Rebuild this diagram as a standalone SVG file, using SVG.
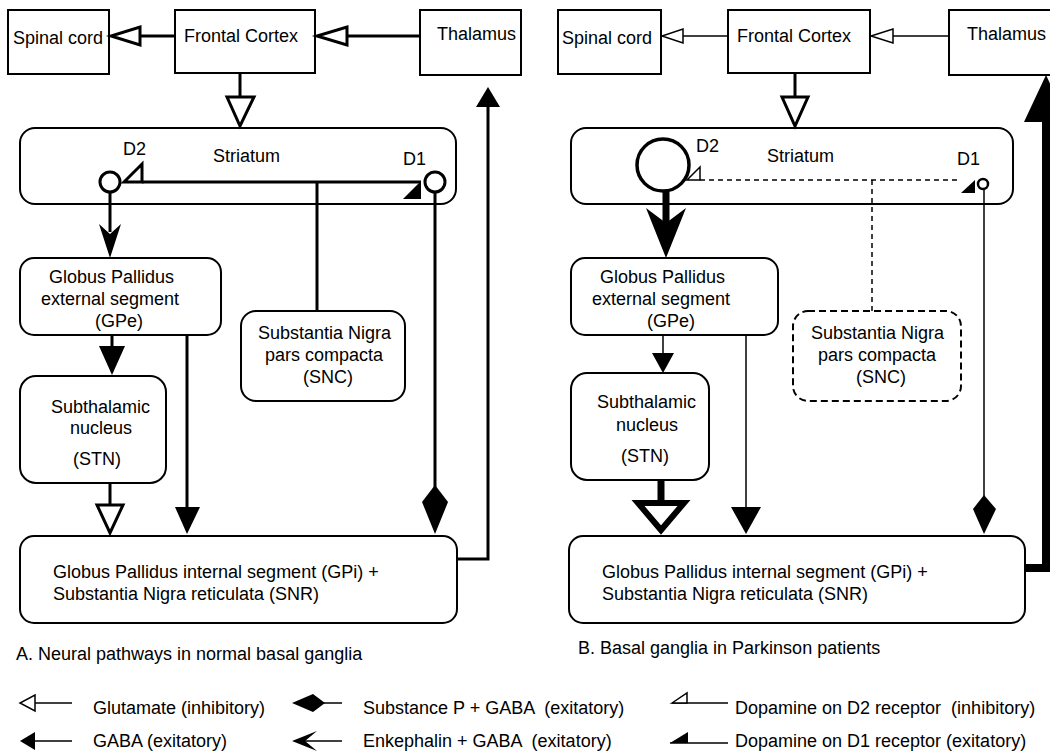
<svg xmlns="http://www.w3.org/2000/svg" width="1050" height="756" viewBox="0 0 1050 756">
<style>
.box{fill:#fff;stroke:#000;stroke-width:2}
.dbox{fill:#fff;stroke:#000;stroke-width:2;stroke-dasharray:7 4}
.t{font-family:"Liberation Sans",Arial,sans-serif;font-size:18px;fill:#000;white-space:pre}
.c3{stroke:#000;stroke-width:3;fill:none}
.c1{stroke:#000;stroke-width:1.5;fill:none}
.dash{stroke:#000;stroke-width:1.5;fill:none;stroke-dasharray:5 4}
.open3{fill:#fff;stroke:#000;stroke-width:3}
.open1{fill:#fff;stroke:#000;stroke-width:1.5}
.fill{fill:#000;stroke:none}
</style>
<rect width="1050" height="756" fill="#fff"/>

<!-- Panel A nodes -->
<g id="spinalA"><rect class="box" x="8" y="10" width="101" height="64"/><text class="t" x="13" y="44">Spinal cord</text></g>
<g id="frontalA"><rect class="box" x="175" y="10" width="140" height="63"/><text class="t" x="184" y="42">Frontal Cortex</text></g>
<g id="thalamusA"><rect class="box" x="420" y="10" width="101" height="65"/><text class="t" x="437" y="40">Thalamus</text></g>
<g id="striatumA"><rect class="box" x="20" y="128" width="436" height="76" rx="15"/><text class="t" x="213" y="162">Striatum</text><text class="t" x="123" y="155">D2</text><text class="t" x="403" y="165">D1</text></g>
<g id="gpeA"><rect class="box" x="20" y="258" width="201" height="77" rx="14"/><text class="t" x="49" y="283">Globus Pallidus</text><text class="t" x="41" y="305">external segment</text><text class="t" x="95" y="327">(GPe)</text></g>
<g id="stnA"><rect class="box" x="20" y="376" width="146" height="107" rx="16"/><text class="t" x="51" y="413">Subthalamic</text><text class="t" x="70" y="434">nucleus</text><text class="t" x="73" y="465">(STN)</text></g>
<g id="sncA"><rect class="box" x="241" y="311" width="164" height="90" rx="15"/><text class="t" x="258" y="339">Substantia Nigra</text><text class="t" x="265" y="361">pars compacta</text><text class="t" x="303" y="383">(SNC)</text></g>
<g id="gpiA"><rect class="box" x="20" y="536" width="437" height="87" rx="14"/><text class="t" x="53" y="578">Globus Pallidus internal segment (GPi) +</text><text class="t" x="53" y="600">Substantia Nigra reticulata (SNR)</text></g>

<!-- Panel B nodes -->
<g id="spinalB"><rect class="box" x="558" y="10" width="103" height="64"/><text class="t" x="562" y="44">Spinal cord</text></g>
<g id="frontalB"><rect class="box" x="728" y="10" width="142" height="63"/><text class="t" x="737" y="42">Frontal Cortex</text></g>
<g id="thalamusB"><rect class="box" x="949" y="10" width="112" height="65"/><text class="t" x="967" y="40">Thalamus</text></g>
<g id="striatumB"><rect class="box" x="571" y="128" width="442" height="76" rx="15"/><text class="t" x="767" y="162">Striatum</text><text class="t" x="696" y="152">D2</text><text class="t" x="957" y="165">D1</text></g>
<g id="gpeB"><rect class="box" x="571" y="258" width="207" height="77" rx="14"/><text class="t" x="600" y="283">Globus Pallidus</text><text class="t" x="592" y="305">external segment</text><text class="t" x="647" y="327">(GPe)</text></g>
<g id="stnB"><rect class="box" x="571" y="373" width="138" height="107" rx="16"/><text class="t" x="597" y="408">Subthalamic</text><text class="t" x="616" y="431">nucleus</text><text class="t" x="621" y="462">(STN)</text></g>
<g id="sncB"><rect class="dbox" x="793" y="311" width="168" height="90" rx="15"/><text class="t" x="811" y="339">Substantia Nigra</text><text class="t" x="818" y="361">pars compacta</text><text class="t" x="856" y="383">(SNC)</text></g>
<g id="gpiB"><rect class="box" x="569" y="536" width="456" height="87" rx="14"/><text class="t" x="602" y="578">Globus Pallidus internal segment (GPi) +</text><text class="t" x="602" y="600">Substantia Nigra reticulata (SNR)</text></g>

<g id="connectors">
<!-- A -->
<line class="c3" x1="175" y1="36" x2="140" y2="36"/><polygon class="open3" points="140,27 140,45 111,36"/>
<line class="c3" x1="419" y1="36" x2="347" y2="36"/><polygon class="open3" points="347,27 347,45 317,36"/>
<line class="c3" x1="240" y1="73" x2="240" y2="97"/><polygon class="open3" points="227,97 254,97 240,126"/>
<line class="c3" x1="142" y1="182" x2="421" y2="182"/>
<polygon class="open3" points="124,182 142,164 142,182"/>
<polygon class="fill" points="403,199 421,181 421,199"/>
<line class="c3" x1="317" y1="182" x2="317" y2="311"/>
<circle class="open3" cx="110" cy="182" r="10"/>
<circle class="open3" cx="435" cy="182" r="10"/>
<line class="c3" x1="110" y1="192" x2="110" y2="232"/><polygon class="fill" points="110,258 99,224 110,234 121,224"/>
<line class="c3" x1="435" y1="192" x2="435" y2="488"/><polygon class="fill" points="435,485 448,502 435,534 422,502"/>
<line class="c3" x1="112" y1="335" x2="112" y2="346"/><polygon class="fill" points="99,346 125,346 112,375"/>
<line class="c3" x1="187" y1="335" x2="187" y2="507"/><polygon class="fill" points="175,507 200,507 187,534"/>
<line class="c3" x1="110" y1="483" x2="110" y2="505"/><polygon class="open3" points="97,505 123,505 110,533"/>
<polyline class="c3" points="457,559 488,559 488,107"/><polygon class="fill" points="476,107 500,107 488,87"/>
<!-- B -->
<line class="c1" x1="728" y1="36" x2="683" y2="36"/><polygon class="open1" points="683,29 683,43 662,36"/>
<line class="c1" x1="949" y1="36" x2="893" y2="36"/><polygon class="open1" points="893,29 893,43 871,36"/>
<line class="c3" x1="795" y1="73" x2="795" y2="97"/><polygon class="open3" points="782,97 808,97 795,126"/>
<line class="dash" x1="700" y1="180" x2="961" y2="180"/>
<polygon class="open1" points="687,180 700,167 700,180"/>
<polygon class="fill" points="961,193 975,180 975,193"/>
<line class="dash" x1="872" y1="180" x2="872" y2="311"/>
<circle fill="#fff" stroke="#000" stroke-width="3.5" cx="663" cy="165" r="26"/>
<circle fill="#fff" stroke="#000" stroke-width="2.5" cx="983" cy="184" r="5"/>
<line stroke="#000" stroke-width="7" x1="666" y1="191" x2="666" y2="225"/><polygon class="fill" points="666,258 646,208 666,223 686,208"/>
<line class="c1" x1="984" y1="189" x2="984" y2="497"/><polygon class="fill" points="984,495 996,509 984,534 973,509"/>
<line class="c1" x1="663" y1="335" x2="663" y2="353"/><polygon class="fill" points="652,353 674,353 663,373"/>
<line class="c1" x1="746" y1="335" x2="746" y2="507"/><polygon class="fill" points="731,507 761,507 746,534"/>
<line stroke="#000" stroke-width="7" x1="661" y1="480" x2="661" y2="502"/><polygon fill="#fff" stroke="#000" stroke-width="6" stroke-linejoin="miter" points="638,503 684,503 661,530"/>
<polyline fill="none" stroke="#000" stroke-width="8" points="1025,568 1046,568 1046,118"/><polygon class="fill" points="1024,122 1068,122 1046,75"/>
</g>

<g id="captions">
<text class="t" x="16" y="660">A. Neural pathways in normal basal ganglia</text>
<text class="t" x="578" y="654">B. Basal ganglia in Parkinson patients</text>
</g>

<g id="legend">
<line class="c1" x1="35" y1="703" x2="72" y2="703"/><polygon class="open1" points="35,695 35,711 20,703"/>
<text class="t" x="93" y="714">Glutamate (inhibitory)</text>
<line class="c1" x1="35" y1="741" x2="72" y2="741"/><polygon class="fill" points="35,732 35,750 20,741"/>
<text class="t" x="93" y="747">GABA (exitatory)</text>
<line class="c1" x1="322" y1="703" x2="342" y2="703"/><polygon class="fill" points="292,703 313,694 325,703 313,712"/>
<text class="t" x="363" y="714">Substance P + GABA  (exitatory)</text>
<line class="c1" x1="300" y1="741" x2="342" y2="741"/><polygon class="fill" points="292,741 317,731 305,741 317,751"/>
<text class="t" x="363" y="747">Enkephalin + GABA  (exitatory)</text>
<line class="c1" x1="672" y1="703" x2="728" y2="703"/><polygon class="open1" points="672,703 687,693 687,703"/>
<text class="t" x="735" y="714">Dopamine on D2 receptor  (inhibitory)</text>
<line class="c1" x1="670" y1="743" x2="728" y2="743"/><polygon class="fill" points="670,743 688,732 688,743"/>
<text class="t" x="735" y="747">Dopamine on D1 receptor (exitatory)</text>
</g>
</svg>
